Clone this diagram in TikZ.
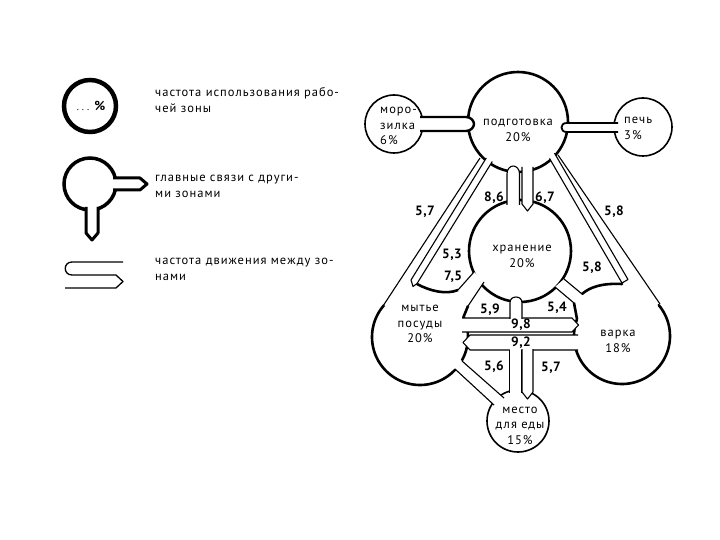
\documentclass[tikz,border=0pt]{standalone}
\usepackage{fontspec}
\setmainfont{PT Sans}
\newfontfamily\lblfont{PT Sans}[LetterSpace=8]
\newfontfamily\numfont{PT Sans}[LetterSpace=3]
\begin{document}
\begin{tikzpicture}[x=1pt,y=-1pt,
  zone/.style={circle,draw,line width=2.6pt,inner sep=0pt},
  zonethin/.style={circle,draw,line width=1.6pt,inner sep=0pt},
  thk/.style={line width=2.6pt,line cap=round,line join=round},
  thn/.style={line width=1.1pt,line join=round},
  band/.style={draw,line width=1.1pt,fill=white,line join=round},
  num/.style={font=\fontsize{13.5}{13.5}\selectfont\numfont\bfseries,inner sep=0pt},
  ztxt/.style={font=\fontsize{12.5}{15.5}\selectfont\lblfont,align=center,inner sep=0pt},
  legtxt/.style={font=\fontsize{12.5}{16}\selectfont\lblfont,align=left,anchor=north west,inner sep=0pt}
]
\useasboundingbox (0,0) rectangle (720,540);

% ---------------- legend ----------------
\node[circle,draw,line width=4.5pt,minimum size=52pt,inner sep=0pt] (L1) at (90,106) {};
\node[inner sep=0pt] (L1t) at (91,106) {{\fontsize{10}{10}\selectfont .\hspace{3pt}.\hspace{3pt}.}\hspace{5pt}{\fontsize{13}{13}\selectfont\bfseries\%}};
\node[legtxt] (T1) at (155,87) {частота использования рабо-\\чей зоны};

\node[circle,draw,line width=3.5pt,minimum size=52pt,inner sep=0pt] (L2) at (90,184) {};
\path[draw,line width=3pt,fill=white,line join=round] (113,178) -- (140,178) -- (147,184) -- (140,190) -- (113,190);
\path[draw,line width=3pt,fill=white,line join=round] (86,207) -- (86,233) -- (92,240) -- (98,233) -- (98,207);
\node[legtxt] (T2) at (155,175) {главные связи с други-\\ми зонами};

\draw[line width=1.3pt,line join=round] (123,262) -- (72,262) .. controls (63,262) and (63,275) .. (72,275) -- (116,275) -- (123,281.5) -- (116,288) -- (65,288);
\node[legtxt] (T3) at (155,258) {частота движения между зо-\\нами};

% ---------------- zones ----------------
\node[zone,minimum size=100pt] (P) at (518,122) {};
\node[zonethin,minimum size=58pt] (M) at (394,124) {};
\node[zonethin,minimum size=58pt] (Pe) at (643,127) {};
\node[zone,minimum size=102pt] (X) at (520,251) {};
\node[zonethin,minimum size=62pt] (E) at (518,421) {};
% washing (W) and cooking (V) blobs
\draw[thk] plot[domain=-25:221,samples=80] ({420+48*cos(\x)},{337+48*sin(\x)});
\draw[thk] plot[domain=-40:200,samples=80] ({622+48*cos(\x)},{336+48*sin(\x)});
% fillets
\draw[thk] (417,284) .. controls (430,291) and (446,295) .. (458,290);
\draw[thk] (463.5,317) -- (468,306);
\draw[thk] (582,294) .. controls (590,287) and (602,283) .. (622,284);
\draw[thk] (577,319) -- (574,303);

% ---------------- tabs between zones ----------------
\path[draw,line width=2.4pt,fill=white,line join=round] (420,117) -- (466,117) .. controls (471,117) and (474,121) .. (474,124) .. controls (474,127) and (471,131) .. (466,131) -- (420,131);
\path[draw,line width=1.8pt,fill=white,line join=round] (618,123) -- (567,123) .. controls (563,123) and (561.5,125) .. (561.5,127.5) .. controls (561.5,130) and (563,132) .. (567,132) -- (618,132);
% P - X
\path[band] (507,205) -- (507,174) .. controls (507,169) and (510,166) .. (513.2,166) .. controls (516.5,166) and (519.5,169) .. (519.5,174) -- (519.5,205);
\path[band] (522,167) -- (522,204) -- (527.5,211) -- (533,204) -- (533,167);
% diagonal bands
\path[band] (486.3,157.9) -- (411,280) -- (413,286.5) -- (417,283.6) -- (492.3,161.5);
\draw[thn] (480,158) -- (383,306);
\path[band] (549.5,158.4) -- (622,283) -- (628,279.5) -- (554.5,153.2);
\draw[thn] (558,155) -- (660,304);
% X - W and X - V short tabs
\fill[white] (458,290) -- (474,272) -- (484,282) -- (468,306) -- cycle;
\draw[thn] (458,290) -- (474,272) (468,306) -- (484,282);
\fill[white] (555,287) -- (564,279) -- (582,294) -- (574,303) -- cycle;
\draw[thn] (555,287) -- (574,303) (564,279) -- (582,294);
% horizontal bands W - V
\path[band] (462,318) -- (572,318) -- (578.5,325) -- (572,332) -- (462,332);
\path[band] (578,335) -- (470,335) -- (463,342.5) -- (470,350) -- (578,350);
% X bottom tab
\path[band] (510,318.8) -- (510,303) .. controls (510,299) and (512.5,297) .. (516,297) .. controls (519.5,297) and (522,299) .. (522,303) -- (522,318.8);
% strips to E
\fill[white] (509.5,349) rectangle (522,394);
\draw[thn] (509.5,350) -- (509.5,393) (522,350) -- (522,393);
\path[band] (522,349) -- (522,392) -- (527.5,399) -- (533,392) -- (533,349);
% W - E band
\fill[white] (459.75,359) -- (506.25,400) -- (496.25,407) -- (452.75,367) -- cycle;
\draw[thn] (462,361) -- (504,398) (455,369) -- (494,405);

% ---------------- zone texts ----------------
\node[ztxt] (Pt) at (518,130.5) {подготовка\\20\%};
\node[ztxt,align=left,anchor=west] (Mt) at (380,126) {моро-\\зилка\\6\%};
\node[ztxt,align=left,anchor=west] (Pet) at (624,128.5) {печь\\3\%};
\node[ztxt] (Xt) at (522,256.5) {хранение\\20\%};
\node[ztxt] (Wt) at (420,324) {мытье\\посуды\\20\%};
\node[ztxt] (Vt) at (618,341.5) {варка\\18\%};
\node[ztxt] (Et) at (520,425.5) {место\\для еды\\15\%};

% ---------------- numbers ----------------
\node[num] (n1) at (425,212) {5,7};
\node[num] (n2) at (452,255) {5,3};
\node[num] (n3) at (453,277) {7,5};
\node[num] (n4) at (494,198) {8,6};
\node[num] (n5) at (545,198) {6,7};
\node[num] (n6) at (614,212) {5,8};
\node[num] (n7) at (592,268) {5,8};
\node[num] (n8) at (490,310) {5,9};
\node[num] (n9) at (557,308) {5,4};
\node[num] (n10) at (521,325) {9,8};
\node[num] (n11) at (521,342.5) {9,2};
\node[num] (n12) at (494,367) {5,6};
\node[num] (n13) at (551,368) {5,7};
\end{tikzpicture}
\end{document}
